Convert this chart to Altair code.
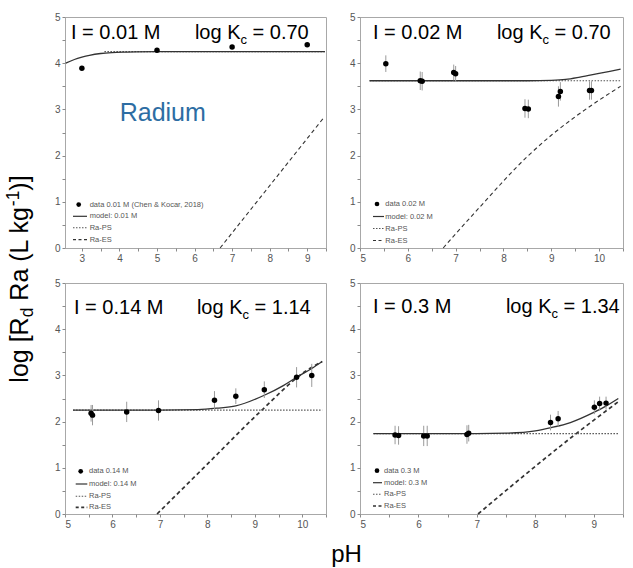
import altair as alt
import pandas as pd

FONT = "Liberation Sans"

# ---------------- values ----------------
# Panel 1: I = 0.01 M
p1_ph = [3.0, 5.0, 7.0, 9.0]
p1_rd = [3.89, 4.28, 4.35, 4.40]
p1_err = [0.0, 0.0, 0.0, 0.0]
p1_model_ph = [2.57, 2.8, 3.0, 3.2, 3.5, 3.8, 4.2, 5.0, 7.0, 9.47]
p1_model_rd = [4.00, 4.08, 4.13, 4.17, 4.21, 4.23, 4.24, 4.25, 4.25, 4.25]
p1_ps_ph = [3.6, 9.47]
p1_ps_rd = [4.25, 4.25]
p1_es_ph = [6.68, 9.42]
p1_es_rd = [0.0, 2.80]

# Panel 2: I = 0.02 M
p2_ph = [5.54, 6.26, 6.30, 6.96, 7.00, 8.45, 8.52, 9.15, 9.19, 9.80, 9.84]
p2_rd = [3.99, 3.62, 3.61, 3.80, 3.77, 3.02, 3.01, 3.28, 3.39, 3.41, 3.41]
p2_err = [0.18, 0.20, 0.20, 0.17, 0.17, 0.20, 0.20, 0.22, 0.20, 0.20, 0.20]
p2_model_ph = [5.2, 6.0, 7.0, 8.0, 8.5, 9.0, 9.3, 9.6, 10.0, 10.45]
p2_model_rd = [3.62, 3.62, 3.62, 3.62, 3.62, 3.63, 3.65, 3.70, 3.78, 3.87]
p2_ps_ph = [5.2, 10.45]
p2_ps_rd = [3.62, 3.62]
p2_es_ph = [6.74, 7.5, 8.5, 9.0, 9.5, 10.0, 10.45]
p2_es_rd = [0.0, 0.88, 1.98, 2.44, 2.84, 3.20, 3.50]

# Panel 3: I = 0.14 M
p3_ph = [5.55, 5.58, 6.30, 6.97, 8.15, 8.60, 9.20, 9.88, 10.20]
p3_rd = [2.18, 2.14, 2.21, 2.24, 2.46, 2.55, 2.69, 2.96, 3.00]
p3_err = [0.18, 0.22, 0.22, 0.22, 0.20, 0.17, 0.18, 0.22, 0.25]
p3_model_ph = [5.17, 7.0, 7.8, 8.2, 8.6, 9.2, 9.6, 9.88, 10.2, 10.42]
p3_model_rd = [2.25, 2.25, 2.26, 2.29, 2.34, 2.57, 2.78, 2.96, 3.15, 3.30]
p3_ps_ph = [5.17, 10.42]
p3_ps_rd = [2.25, 2.25]
p3_es_ph = [6.94, 8.0, 9.15, 10.07, 10.42]
p3_es_rd = [0.0, 1.08, 2.25, 3.09, 3.30]

# Panel 4: I = 0.3 M
p4_ph = [5.60, 5.66, 6.09, 6.15, 6.83, 6.86, 8.26, 8.39, 9.01, 9.10, 9.21]
p4_rd = [1.71, 1.70, 1.69, 1.69, 1.72, 1.75, 1.98, 2.06, 2.31, 2.39, 2.40]
p4_err = [0.20, 0.20, 0.22, 0.22, 0.20, 0.18, 0.17, 0.17, 0.15, 0.15, 0.14]
p4_model_ph = [5.23, 7.0, 7.5, 8.0, 8.27, 8.6, 9.0, 9.2, 9.42]
p4_model_rd = [1.74, 1.74, 1.75, 1.80, 1.87, 1.98, 2.20, 2.33, 2.50]
p4_ps_ph = [5.23, 9.42]
p4_ps_rd = [1.74, 1.74]
p4_es_ph = [7.02, 8.7, 9.42]
p4_es_rd = [0.0, 1.74, 2.43]

ionic_labels = ["I = 0.01 M", "I = 0.02 M", "I = 0.14 M", "I = 0.3 M"]
logkc_values = ["0.70", "0.70", "1.14", "1.34"]
legend_data_labels = ["data 0.01 M (Chen & Kocar, 2018)", "data 0.02 M",
                      "data 0.14 M", "data 0.3 M"]
legend_model_labels = ["model: 0.01 M", "model: 0.02 M", "model: 0.14 M", "model: 0.3 M"]
legend_ps_label = "Ra-PS"
legend_es_label = "Ra-ES"

# Arial / Liberation Sans advance widths (1/1000 em) for composing sub/superscripts
AW = {" ": 278, "[": 278, "]": 278, "(": 333, ")": 333, "-": 333, "=": 584, ".": 278,
      "a": 556, "c": 500, "d": 556, "g": 556, "k": 500, "l": 222, "o": 556,
      "L": 556, "R": 722, "K": 667, "I": 278, "M": 833}
for dgt in "0123456789":
    AW[dgt] = 556


def tw(s, size):
    return sum(AW.get(ch, 556) for ch in s) / 1000.0 * size


def txt(text, x, y, size, align="left", color="black", dx=0, dy=0, angle=0,
        baseline="alphabetic"):
    return alt.Chart(alt.Data(values=[{"t": 1}])).mark_text(
        text=text, align=align, baseline=baseline, fontSize=size, font=FONT,
        color=color, dx=dx, dy=dy, angle=angle
    ).encode(x=alt.value(x), y=alt.value(y))


def composed(pieces, x, y, angle=0):
    """pieces: (text, size, dy). Leading spaces are turned into offsets (SVG drops them)."""
    out = []
    acc = 0.0
    for s, z, d in pieces:
        stripped = s.lstrip(" ")
        lead = tw(s[: len(s) - len(stripped)], z)
        if angle == 0:
            out.append(txt(stripped, x + acc + lead, y + d, z))
        else:
            out.append(txt(stripped, x, y, z, angle=angle, dx=acc + lead, dy=d))
        acc += tw(s, z)
    return out, acc


def half_steps(a, b):
    out = []
    v = a
    while v <= b + 1e-9:
        out.append(v)
        v += 0.5
    return out


LABEL_EXPR = "datum.value % 1 == 0 ? format(datum.value, 'd') : ''"


def panel(i, ph, rd, err, mph, mrd, psph, psrd, esph, esrd, cfg):
    W, H = cfg["W"], cfg["H"]
    xs = alt.Scale(domain=cfg["xdom"], nice=False, zero=False)
    ys = alt.Scale(domain=[0, 5], nice=False, zero=False)
    xax = alt.Axis(values=cfg["xticks"], labelExpr=LABEL_EXPR, title=None)
    yax = alt.Axis(values=half_steps(0, 5), labelExpr=LABEL_EXPR, title=None)

    pts = pd.DataFrame({"pH": ph, "Rd": rd,
                        "lo": [r - e for r, e in zip(rd, err)],
                        "hi": [r + e for r, e in zip(rd, err)]})
    model = pd.DataFrame({"pH": mph, "Rd": mrd})
    ps = pd.DataFrame({"pH": psph, "Rd": psrd})
    es = pd.DataFrame({"pH": esph, "Rd": esrd})

    X = alt.X("pH:Q", scale=xs, axis=xax)
    Y = alt.Y("Rd:Q", scale=ys, axis=yax)

    es_w = cfg["es_w"]
    layers = [
        alt.Chart(es).mark_line(color="#333333", strokeWidth=es_w, interpolate="monotone",
                                strokeDash=[4, 3]).encode(x=X, y=Y),
        alt.Chart(ps).mark_line(color="#555555", strokeWidth=1.2,
                                strokeDash=[1.5, 1.5]).encode(x=X, y=Y),
        alt.Chart(model).mark_line(color="#333333", strokeWidth=1.3,
                                   interpolate="monotone").encode(x=X, y=Y),
    ]
    if max(err) > 0:
        layers.append(
            alt.Chart(pts).mark_rule(color="#9a9a9a", strokeWidth=1).encode(
                x=X, y=alt.Y("lo:Q", scale=ys, axis=yax), y2="hi:Q"))
    layers.append(alt.Chart(pts).mark_circle(size=30, color="black", opacity=1).encode(x=X, y=Y))

    # panel annotations
    layers.append(txt(ionic_labels[i], cfg["ion_x"], cfg["base_y"], 20))
    pieces = [("log K", 20, 0), ("c", 13, 5), (" = " + logkc_values[i], 20, 0)]
    total = sum(tw(s, z) for s, z, _ in pieces)
    kl, _ = composed(pieces, cfg["logk_right"] - total, cfg["base_y"])
    layers.extend(kl)

    # legend
    rows = cfg["leg_rows"]
    lx0, lx1 = cfg["leg_line"]
    tx = cfg["leg_text"]
    labels = [legend_data_labels[i], legend_model_labels[i], legend_ps_label, legend_es_label]
    one = alt.Data(values=[{"t": 1}])
    layers.append(alt.Chart(one).mark_circle(size=22, color="black", opacity=1).encode(
        x=alt.value(cfg["leg_dot"]), y=alt.value(rows[0])))
    layers.append(alt.Chart(one).mark_rule(color="#333333", strokeWidth=1.2).encode(
        x=alt.value(lx0), x2=alt.value(lx1), y=alt.value(rows[1])))
    layers.append(alt.Chart(one).mark_rule(color="#555555", strokeWidth=1.1,
                                           strokeDash=[1.5, 1.5]).encode(
        x=alt.value(lx0), x2=alt.value(lx1), y=alt.value(rows[2])))
    layers.append(alt.Chart(one).mark_rule(color="#333333", strokeWidth=es_w,
                                           strokeDash=[3, 2.5]).encode(
        x=alt.value(lx0), x2=alt.value(lx1), y=alt.value(rows[3])))
    for r, lab in zip(rows, labels):
        layers.append(txt(lab, tx, r, 7.5, color="#555555", baseline="middle"))

    for extra in cfg.get("extra", []):
        layers.append(extra)

    return alt.layer(*layers).properties(width=W, height=H)


# y-axis title composed with subscript / superscript pieces (rotated)
yt_pieces = [("log [R", 25, 0), ("d", 17.5, 5), (" Ra (L kg", 25, 0), ("-1", 17.5, -9.5), (")]", 25, 0)]
yt_total = sum(tw(s, z) for s, z, _ in yt_pieces)
yt_center = 262.0   # relative to panel-1 top
yt_layers, _ = composed(yt_pieces, -37.0, yt_center + yt_total / 2, angle=270)

radium = txt("Radium", 54.7, 104.3, 25, color="#2D6DA3")
ph_title = txt("pH", 281.5, 279.0, 24, align="center")

cfg1 = dict(W=261, H=231, xdom=[2.55, 9.5], xticks=half_steps(3, 9.5), es_w=1.1,
            ion_x=6, base_y=21.6, logk_right=243.7,
            leg_rows=[187.6, 199.3, 210.8, 222.6], leg_dot=13.7, leg_line=(8, 22), leg_text=24.7,
            extra=[radium] + yt_layers)
cfg2 = dict(W=263, H=231, xdom=[5, 10.5], xticks=half_steps(5, 10.5), es_w=1.1,
            ion_x=13, base_y=22.3, logk_right=250.7,
            leg_rows=[187, 199.5, 211.5, 223.5], leg_dot=17, leg_line=(13, 24), leg_text=25.3)
cfg3 = dict(W=261, H=231, xdom=[5, 10.5], xticks=half_steps(5, 10.5), es_w=1.7,
            ion_x=9, base_y=30.6, logk_right=245.7,
            leg_rows=[188.3, 201, 213.3, 224.3], leg_dot=15.7, leg_line=(10.7, 22.3), leg_text=24,
            extra=[ph_title])
cfg4 = dict(W=263, H=231, xdom=[5, 9.5], xticks=half_steps(5, 9.5), es_w=1.7,
            ion_x=13, base_y=29.7, logk_right=259.7,
            leg_rows=[187.7, 199.7, 211.3, 223], leg_dot=17, leg_line=(13, 22), leg_text=24)

c1 = panel(0, p1_ph, p1_rd, p1_err, p1_model_ph, p1_model_rd, p1_ps_ph, p1_ps_rd, p1_es_ph, p1_es_rd, cfg1)
c2 = panel(1, p2_ph, p2_rd, p2_err, p2_model_ph, p2_model_rd, p2_ps_ph, p2_ps_rd, p2_es_ph, p2_es_rd, cfg2)
c3 = panel(2, p3_ph, p3_rd, p3_err, p3_model_ph, p3_model_rd, p3_ps_ph, p3_ps_rd, p3_es_ph, p3_es_rd, cfg3)
c4 = panel(3, p4_ph, p4_rd, p4_err, p4_model_ph, p4_model_rd, p4_ps_ph, p4_ps_rd, p4_es_ph, p4_es_rd, cfg4)

chart = alt.concat(
    c1, c2, c3, c4, columns=2, spacing={"row": 35, "column": 34}, bounds="flush"
).resolve_scale(
    x="independent", y="independent"
).properties(
    padding={"left": 3, "top": 11, "right": 4, "bottom": 0},
    background="white",
).configure_view(
    stroke="#a8a8a8", strokeWidth=1
).configure_axis(
    grid=False, domain=False, tickColor="#8a8a8a", tickSize=3, tickWidth=1,
    labelColor="#555555", labelFont=FONT, labelFontSize=10, labelPadding=2
)

chart.save("out.html", embed_options={"renderer": "svg", "actions": False})
